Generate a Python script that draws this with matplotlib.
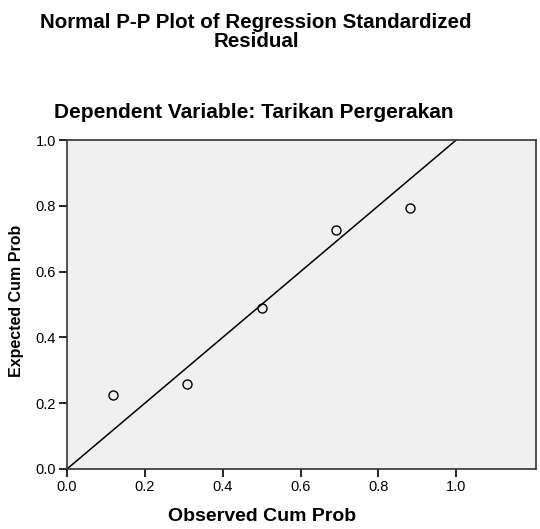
import matplotlib.pyplot as plt

# Normal P-P plot data
observed_cum_prob = [0.119, 0.309, 0.500, 0.690, 0.880]
expected_cum_prob = [0.225, 0.259, 0.489, 0.726, 0.792]
ref_line = [0.0, 1.0]
ticks_x = [0.0, 0.2, 0.4, 0.6, 0.8, 1.0]
ticks_y = [0.0, 0.2, 0.4, 0.6, 0.8, 1.0]

plt.rcParams['font.family'] = ['Liberation Sans', 'DejaVu Sans']

fig = plt.figure(figsize=(5.4, 5.29), dpi=100)
ax = fig.add_axes([67 / 540, 60 / 529, 469 / 540, 329 / 529])
ax.set_facecolor('#f0f0f0')

ax.plot(ref_line, ref_line, color='black', lw=1.1, zorder=2)
ax.plot(observed_cum_prob, expected_cum_prob, 'o', ms=6.5, mfc='none',
        mec='black', mew=1.0, zorder=3)

ax.set_xlim(0, 1.205)
ax.set_ylim(0, 1.0)
ax.set_xticks(ticks_x)
ax.set_yticks(ticks_y)
ax.set_xticklabels([f"{t:.1f}" for t in ticks_x])
ax.set_yticklabels([f"{t:.1f}" for t in ticks_y])
ax.tick_params(direction='out', length=6, width=1.2, pad=2, labelsize=10.5, colors='black')
for s in ax.spines.values():
    s.set_linewidth(1.2)
    s.set_color('#333333')

# SPSS centres the x label under the 0..1 range, not the whole axis
ax.set_xlabel("Observed Cum Prob", fontsize=14, fontweight='bold', labelpad=10)
ax.xaxis.label.set_x(0.5 / 1.205)
ax.set_ylabel("Expected Cum Prob", fontsize=11.5, fontweight='bold', labelpad=8)
ax.yaxis.label.set_y(0.51)

fig.text(256 / 540, 1 - 32 / 529, "Normal P-P Plot of Regression Standardized\nResidual",
         ha='center', va='center', fontsize=14.8, fontweight='bold', linespacing=1.05)
fig.text(254 / 540, 1 - 112 / 529, "Dependent Variable: Tarikan Pergerakan",
         ha='center', va='center', fontsize=15, fontweight='bold')

fig.savefig('out.png', dpi=100)
